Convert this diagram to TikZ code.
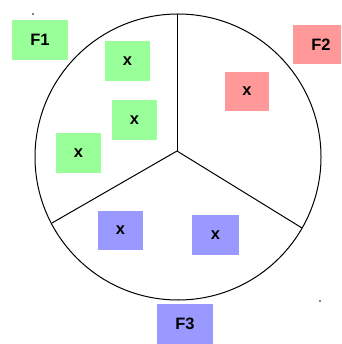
\documentclass[tikz,border=0pt]{standalone}
\usepackage{fontspec}
\setmainfont{Liberation Sans}
\definecolor{fgreen}{HTML}{99FF99}
\definecolor{fred}{HTML}{FF9999}
\definecolor{fblue}{HTML}{9999FF}
\begin{document}
\begin{tikzpicture}[x=1pt,y=-1pt,
  lbl/.style={inner sep=0pt,minimum width=56pt,minimum height=40pt,font=\fontsize{16.5}{18}\selectfont\bfseries},
  xbox/.style={inner sep=0pt,minimum width=45pt,minimum height=40pt,font=\fontsize{16.5}{18}\selectfont\bfseries},
  edge/.style={line width=1pt,black},
  dotmark/.style={circle,fill=black,inner sep=0pt,minimum size=1.6pt}]
\useasboundingbox (0,0) rectangle (341,344);
\clip (0,0) rectangle (341,344);
% circle and spokes
\coordinate (o) at (178,157);
\draw[edge] (o) circle[radius=143pt];
\coordinate (c) at (177,151);
\coordinate (top) at (177,14);
\coordinate (left) at (52,223);
\coordinate (right) at (302,228);
\draw[edge] (c) -- (top);
\draw[edge] (c) -- (left);
\draw[edge] (c) -- (right);
% labels
\node[lbl,fill=fgreen] (F1) at (40,40) {F1};
\node[lbl,fill=fred,minimum height=39pt] (F2) at (321,44.5) {F2};
\node[lbl,fill=fblue] (F3) at (185,324) {F3};
% points
\node[xbox,fill=fgreen] (g1) at (127.5,61) {x};
\node[xbox,fill=fgreen] (g2) at (134.5,120) {x};
\node[xbox,fill=fgreen] (g3) at (78.5,153) {x};
\node[xbox,fill=fred,minimum width=44pt,minimum height=39pt] (r1) at (247,91.5) {x};
\node[xbox,fill=fblue,minimum height=39pt] (b1) at (120.5,230.5) {x};
\node[xbox,fill=fblue,minimum width=47pt] (b2) at (215.5,235) {x};
% stray dots
\node[dotmark] (d1) at (33,14) {};
\node[dotmark] (d2) at (320,301) {};
\end{tikzpicture}
\end{document}
